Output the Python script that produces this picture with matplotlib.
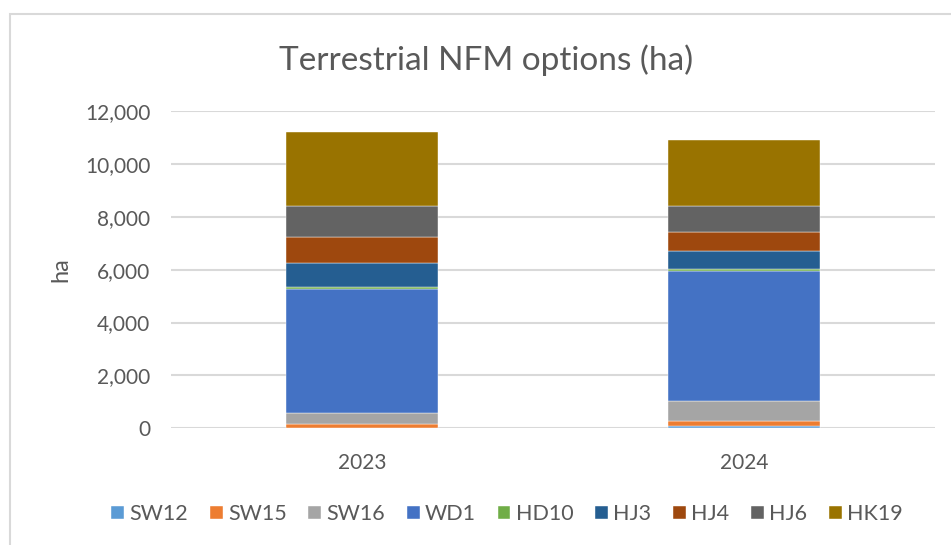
import matplotlib.pyplot as plt
import numpy as np
from matplotlib.patches import Rectangle

plt.rcParams['font.family'] = ['Lato', 'DejaVu Sans']

years = ['2023', '2024']
series = ['SW12', 'SW15', 'SW16', 'WD1', 'HD10', 'HJ3', 'HJ4', 'HJ6', 'HK19']
sw12 = [10, 80]
sw15 = [140, 200]
sw16 = [416, 762]
wd1 = [4687, 4915]
hd10 = [76, 65]
hj3 = [918, 697]
hj4 = [972, 696]
hj6 = [1194, 986]
hk19 = [2797, 2510]
colours = ['#5B9BD5', '#ED7D31', '#A5A5A5', '#4472C4', '#70AD47',
           '#255E91', '#9E480E', '#636363', '#997300']

values = [sw12, sw15, sw16, wd1, hd10, hj3, hj4, hj6, hk19]

fig = plt.figure(figsize=(9.51, 5.45), dpi=100)
ax = fig.add_axes([171/951, 1 - 428.3/545, (935 - 171)/951, (428.3 - 111)/545])

# chart border
fig.patches.append(Rectangle((10/951, -0.1), 1.0, 1 - 14/545 + 0.1, transform=fig.transFigure,
                             fill=False, edgecolor='#d9d9d9', linewidth=1.5))

x = np.arange(len(years))
bottom = np.zeros(len(years))
for name, vals, col in zip(series, values, colours):
    ax.bar(x, vals, width=0.4, bottom=bottom, color=col, label=name, zorder=3,
           edgecolor='white', linewidth=0.3)
    bottom += np.array(vals)

ax.set_xlim(-0.5, 1.5)
ax.set_ylim(0, 12000)
ax.set_yticks(range(0, 12001, 2000))
ax.set_yticklabels([f'{v:,}' for v in range(0, 12001, 2000)])
ax.set_xticks(x)
ax.set_xticklabels(years)
ax.yaxis.grid(True, color='#d9d9d9', linewidth=1.5, zorder=0)
for s in ax.spines.values():
    s.set_visible(False)
ax.tick_params(length=0, colors='#595959', labelsize=15)
ax.tick_params(axis='y', pad=15)
ax.tick_params(axis='x', pad=18)
ax.set_ylabel('ha', fontsize=17, color='#595959', labelpad=10)

fig.text(486/951, 1 - 60/545, 'Terrestrial NFM options (ha)', ha='center', va='center',
         fontsize=24, color='#595959')

fig.legend(loc='center', bbox_to_anchor=(507/951, 1 - 514/545), ncol=9, frameon=False,
           fontsize=15.5, handlelength=0.6, handleheight=0.6, handletextpad=0.25,
           columnspacing=1.0, labelcolor='#595959')

fig.savefig('out.png', dpi=100)
